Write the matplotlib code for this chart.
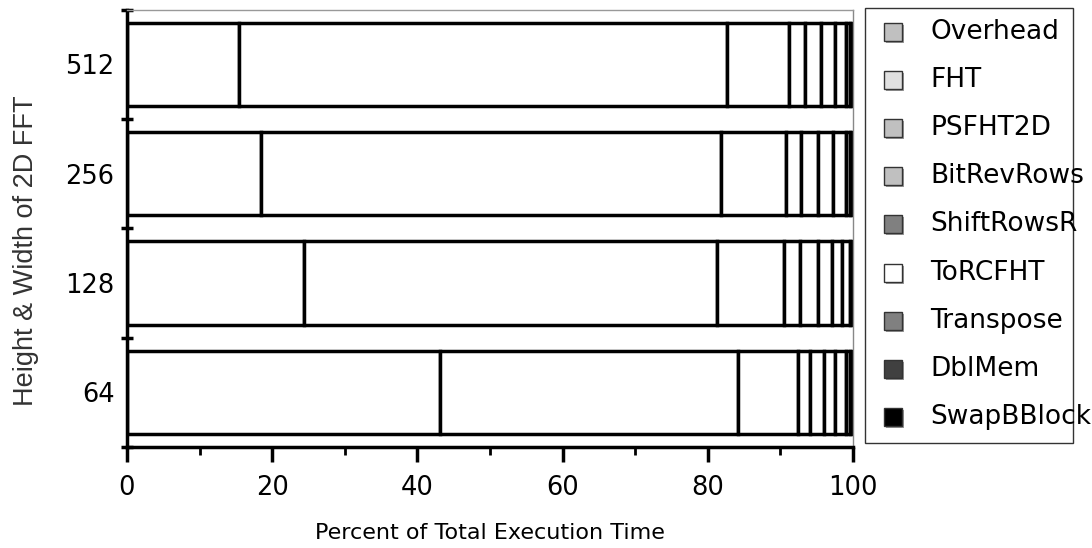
import matplotlib
matplotlib.use("Agg")
import matplotlib.pyplot as plt
import numpy as np
from matplotlib.patches import Rectangle

# percent of total execution time per stage, bars bottom to top
sizes = ["64", "128", "256", "512"]
stages = ["Overhead", "FHT", "PSFHT2D", "BitRevRows", "ShiftRowsR",
          "ToRCFHT", "Transpose", "DblMem", "SwapBBlock"]
legend_colors = ["#c0c0c0", "#e0e0e0", "#c0c0c0", "#c0c0c0", "#808080",
                 "#ffffff", "#808080", "#404040", "#000000"]

overhead   = [43.1, 24.4, 18.5, 15.4]
fht        = [41.1, 56.9, 63.3, 67.3]
psfht2d    = [8.2, 9.2, 9.0, 8.5]
bitrevrows = [1.7, 2.2, 2.1, 2.2]
shiftrowsr = [1.9, 2.5, 2.3, 2.2]
torcfht    = [1.5, 1.9, 2.0, 1.9]
transpose  = [1.6, 1.4, 1.8, 1.5]
dblmem     = [0.5, 1.1, 0.6, 0.6]
swapbblock = [0.4, 0.4, 0.4, 0.4]

series = [overhead, fht, psfht2d, bitrevrows, shiftrowsr,
          torcfht, transpose, dblmem, swapbblock]

W, H = 1092.0, 548.0
fig = plt.figure(figsize=(10.92, 5.48), dpi=100)
ax = fig.add_axes([127/W, 1 - 447/H, (853-127)/W, (447-9.5)/H])

ypos = np.arange(len(sizes))
left = np.zeros(len(sizes))
for vals, name in zip(series, stages):
    ax.barh(ypos, vals, left=left, height=0.76, color="white",
            edgecolor="black", linewidth=2.5, label=name)
    left += np.array(vals)

ax.set_xlim(0, 100)
ax.set_ylim(-0.5, 3.5)
ax.set_xticks([0, 20, 40, 60, 80, 100])
ax.set_xticks([10, 30, 50, 70, 90], minor=True)
ax.set_yticks(ypos)
ax.set_yticklabels(sizes)
ax.set_yticks(np.arange(-0.5, 3.6, 1.0), minor=True)
ax.tick_params(axis="x", which="major", direction="out", length=11, width=2.5,
               labelsize=18.5, pad=9)
ax.tick_params(axis="x", which="minor", direction="out", length=6, width=2)
ax.tick_params(axis="y", which="major", length=0, labelsize=18.5, pad=9)
ax.tick_params(axis="y", which="minor", direction="inout", length=9, width=2.5)

ax.spines["top"].set_color("#999999")
ax.spines["top"].set_linewidth(1)
ax.spines["right"].set_color("#888888")
ax.spines["right"].set_linewidth(1)
ax.spines["left"].set_linewidth(2.5)
ax.spines["bottom"].set_linewidth(2.5)

ax.set_xlabel("Percent of Total Execution Time", fontsize=16, labelpad=16)
fig.text(26/W, 1 - 251/H, "Height & Width of 2D FFT", rotation=90,
         fontsize=19.5, color="#333333", family="Liberation Sans",
         ha="center", va="center")

# legend box drawn by hand, narrower than its text like the original
fig.add_artist(Rectangle((865/W, 1 - 443/H), (1073-865)/W, (443-8)/H,
                         transform=fig.transFigure, facecolor="white",
                         edgecolor="#333333", linewidth=1))
for i, (name, col) in enumerate(zip(stages, legend_colors)):
    yc = 32 + i * 48.1
    # shadow then swatch
    fig.add_artist(Rectangle((886/W, 1 - (yc + 11)/H), 18/W, 18/H,
                             transform=fig.transFigure, facecolor="#999999",
                             edgecolor="none"))
    fig.add_artist(Rectangle((884/W, 1 - (yc + 9)/H), 18/W, 18/H,
                             transform=fig.transFigure, facecolor=col,
                             edgecolor="#333333", linewidth=1))
    fig.text(930/W, 1 - yc/H, name, fontsize=19, va="center", ha="left")

fig.savefig("out.png", dpi=100)
